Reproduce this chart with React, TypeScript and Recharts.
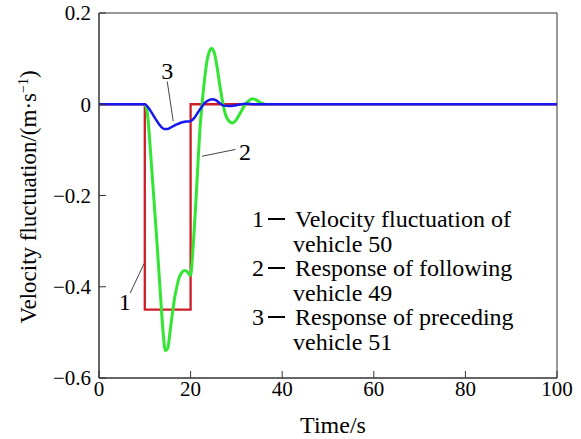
import { LineChart, Line, XAxis, YAxis, ReferenceArea, ReferenceLine, ReferenceDot } from 'recharts'

const xTicks = [0, 20, 40, 60, 80, 100]
const yTicks = [0.2, 0, -0.2, -0.4, -0.6]

// 1 - velocity fluctuation of vehicle 50 (step)
const redT = [0, 10, 10, 20, 20, 100]
const redV = [0, 0, -0.45, -0.45, 0, 0]

// 2 - response of following vehicle 49
const greenT = [10, 10.5, 11, 11.5, 12, 12.5, 13, 13.5, 14, 14.5, 15, 15.5, 16, 16.5, 17, 17.5, 18, 18.5, 19, 19.5, 20, 20.5, 21, 21.5, 22, 22.5, 23, 23.5, 24, 24.6, 25.2, 25.8, 26.4, 27, 27.6, 28.3, 29.1, 29.9, 30.8, 31.7, 32.6, 33.5, 34.4, 35.3, 36.2]
const greenV = [0, -0.015, -0.07, -0.14, -0.21, -0.28, -0.355, -0.43, -0.5, -0.54, -0.535, -0.5, -0.46, -0.425, -0.4, -0.38, -0.37, -0.365, -0.365, -0.37, -0.375, -0.32, -0.24, -0.15, -0.06, 0, 0.05, 0.09, 0.113, 0.122, 0.112, 0.08, 0.04, 0.005, -0.022, -0.036, -0.041, -0.035, -0.02, -0.004, 0.007, 0.012, 0.009, 0.003, 0]

// 3 - response of preceding vehicle 51
const blueT = [0, 10, 10.8, 11.6, 12.4, 13.2, 14.2, 15, 16, 17, 18, 19, 20, 20.8, 21.6, 22.4, 23.2, 24, 24.7, 25.5, 26.4, 27.2, 28.5, 30, 32, 34, 100]
const blueV = [0, 0, -0.008, -0.02, -0.033, -0.045, -0.054, -0.054, -0.049, -0.044, -0.04, -0.038, -0.037, -0.03, -0.018, -0.006, 0.004, 0.009, 0.011, 0.009, 0.002, -0.003, -0.004, -0.002, 0.001, 0, 0]

const legendLines = [
  ['1', 'Velocity fluctuation of', 'vehicle 50'],
  ['2', 'Response of following', 'vehicle 49'],
  ['3', 'Response of preceding', 'vehicle 51'],
]

const toPts = (t: number[], v: number[]) => t.map((x, i) => ({ t: x, v: v[i] }))

const FONT = '"Liberation Serif", "Times New Roman", serif'

const fmt = (v: number) => (v === 0 ? '0' : v < 0 ? `\u2212${Math.abs(v)}` : `${v}`)

function LegendBox() {
  return (
    <div style={{ position: 'absolute', left: 252, top: 207, fontFamily: FONT, fontSize: 24, lineHeight: '24.5px', color: '#000' }}>
      {legendLines.map(([n, a, b]) => (
        <div key={n}>
          <div style={{ display: 'flex', alignItems: 'center', whiteSpace: 'nowrap' }}>
            <span style={{ width: 16 }}>{n}</span>
            <span style={{ display: 'inline-block', width: 17, height: 2, background: '#000', marginRight: 10 }} />
            <span>{a}</span>
          </div>
          <div style={{ paddingLeft: 41 }}>{b}</div>
        </div>
      ))}
    </div>
  )
}

export default function App() {
  const tickStyle = { fontFamily: FONT, fontSize: 21, fill: '#000' }
  const numLabel = { fontFamily: FONT, fontSize: 24, fill: '#000' }
  return (
    <div style={{ position: 'absolute', left: 0, top: 0, width: 581, height: 439, background: '#fff' }}>
      <LineChart width={581} height={439} margin={{ top: 13, right: 24, bottom: 0, left: 0 }}>
        <XAxis
          type="number"
          dataKey="t"
          domain={[0, 100]}
          ticks={xTicks}
          height={61}
          tickSize={-7}
          tickMargin={10}
          tick={tickStyle}
          stroke="#333"
          allowDuplicatedCategory={false}
          label={({ viewBox }: any) => (
            <text x={viewBox.x + viewBox.width / 2 + 5} y={433} textAnchor="middle" style={{ fontFamily: FONT, fontSize: 24 }} fill="#000">
              Time/s
            </text>
          )}
        />
        <YAxis
          type="number"
          domain={[-0.6, 0.2]}
          ticks={yTicks}
          width={99}
          tickSize={-7}
          tickMargin={15}
          tickFormatter={fmt}
          tick={tickStyle}
          stroke="#333"
          label={() => (
            <text transform="translate(36,197) rotate(-90)" textAnchor="middle" style={{ fontFamily: FONT, fontSize: 23 }} fill="#000">
              Velocity fluctuation/(m·s
              <tspan dy={-8} fontSize={14}>−1</tspan>
              <tspan dy={8}>)</tspan>
            </text>
          )}
        />
        <ReferenceArea x1={0} x2={100} y1={-0.6} y2={0.2} fill="none" stroke="#333" strokeWidth={1} />
        <Line data={toPts(redT, redV)} dataKey="v" type="linear" stroke="#cc1f26" strokeWidth={2.3} dot={false} isAnimationActive={false} />
        <Line data={toPts(greenT, greenV)} dataKey="v" type="monotone" stroke="#33e633" strokeWidth={3} dot={false} isAnimationActive={false} />
        <Line data={toPts(blueT, blueV)} dataKey="v" type="monotone" stroke="#1717f2" strokeWidth={2.5} dot={false} isAnimationActive={false} />
        <ReferenceLine segment={[{ x: 14.9, y: 0.05 }, { x: 16.2, y: -0.037 }]} stroke="#444" strokeWidth={1} />
        <ReferenceLine segment={[{ x: 29.8, y: -0.099 }, { x: 22.5, y: -0.114 }]} stroke="#444" strokeWidth={1} />
        <ReferenceLine segment={[{ x: 6.8, y: -0.414 }, { x: 9.85, y: -0.349 }]} stroke="#444" strokeWidth={1} />
        <ReferenceDot x={14.9} y={0.074} r={0} fill="none" stroke="none" label={{ value: '3', position: 'center', style: numLabel }} />
        <ReferenceDot x={31.9} y={-0.103} r={0} fill="none" stroke="none" label={{ value: '2', position: 'center', style: numLabel }} />
        <ReferenceDot x={5.6} y={-0.432} r={0} fill="none" stroke="none" label={{ value: '1', position: 'center', style: numLabel }} />
      </LineChart>
      <LegendBox />
    </div>
  )
}
